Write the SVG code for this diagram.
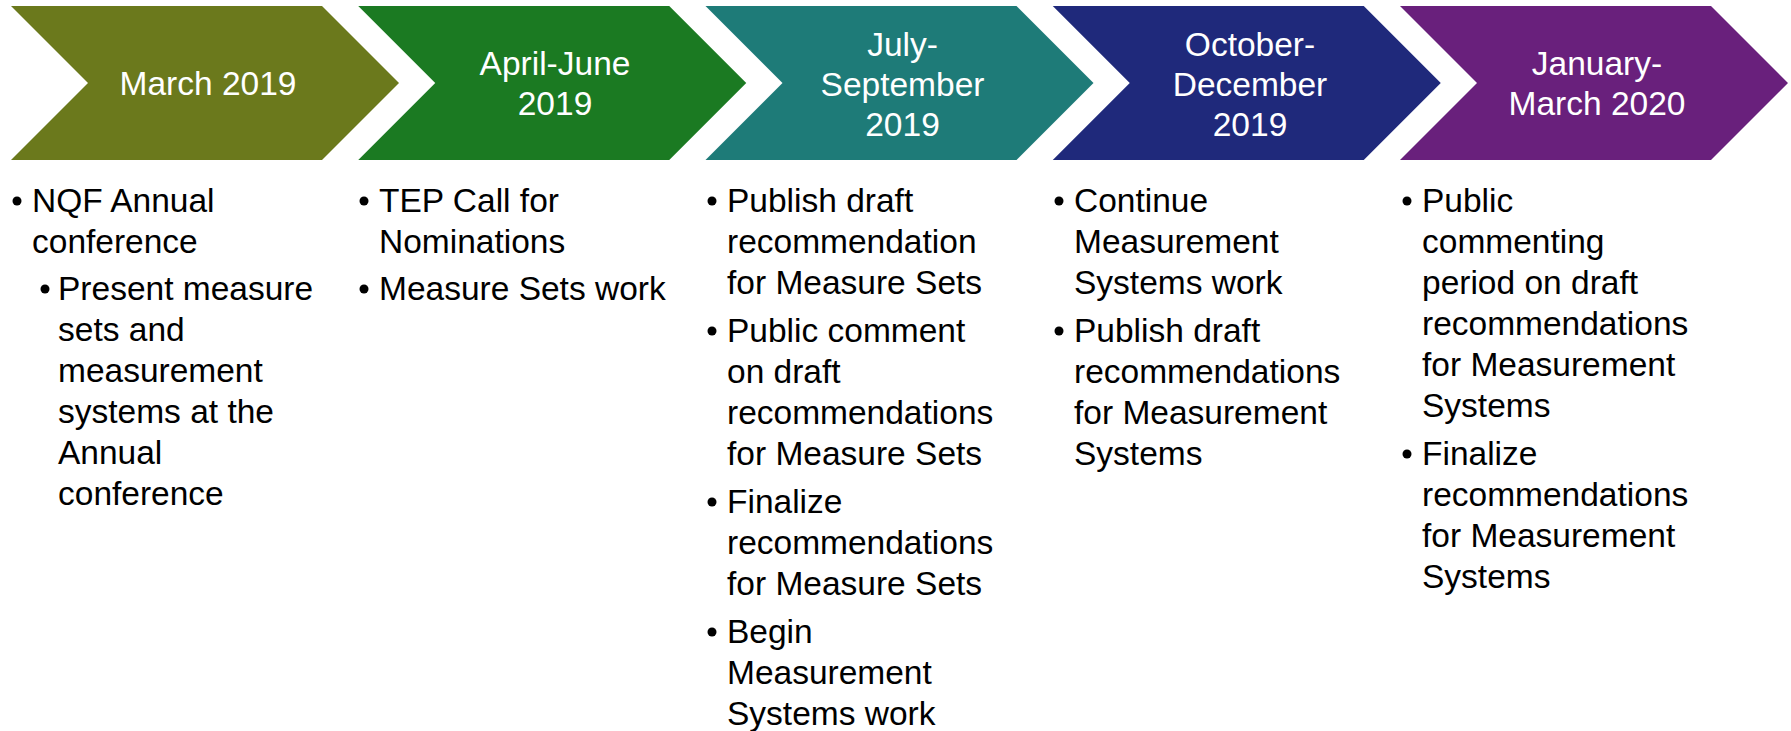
<svg xmlns="http://www.w3.org/2000/svg" width="1791" height="731" viewBox="0 0 1791 731">
<style>
.hd{font-family:"Liberation Sans",Arial,sans-serif;font-size:33.5px;fill:#ffffff;text-anchor:middle}
.bt{font-family:"Liberation Sans",Arial,sans-serif;font-size:33.5px;fill:#000000}
.dot{fill:#000000}
</style>
<defs>
<path id="chev" d="M0,6 H311 L388,83 L311,160 H0 L77,83 Z"/>
</defs>
<g id="connectors"></g>
<g id="node-mar2019">
<use href="#chev" x="11" fill="#6B791C"/>
<text class="hd" x="208" y="95">March 2019</text>
<circle class="dot" cx="17" cy="201" r="4.5"/>
<text class="bt" x="32" y="212">NQF Annual</text>
<text class="bt" x="32" y="253">conference</text>
<circle class="dot" cx="45" cy="289" r="4.5"/>
<text class="bt" x="58" y="300">Present measure</text>
<text class="bt" x="58" y="341">sets and</text>
<text class="bt" x="58" y="382">measurement</text>
<text class="bt" x="58" y="423">systems at the</text>
<text class="bt" x="58" y="464">Annual</text>
<text class="bt" x="58" y="505">conference</text>
</g>
<g id="node-aprjun2019">
<use href="#chev" x="358.25" fill="#1B7A22"/>
<text class="hd" x="555" y="75">April-June</text>
<text class="hd" x="555" y="115">2019</text>
<circle class="dot" cx="364" cy="201" r="4.5"/>
<text class="bt" x="379" y="212">TEP Call for</text>
<text class="bt" x="379" y="253">Nominations</text>
<circle class="dot" cx="364" cy="289" r="4.5"/>
<text class="bt" x="379" y="300">Measure Sets work</text>
</g>
<g id="node-julsep2019">
<use href="#chev" x="705.5" fill="#1E7B78"/>
<text class="hd" x="902.5" y="56">July-</text>
<text class="hd" x="902.5" y="96">September</text>
<text class="hd" x="902.5" y="136">2019</text>
<circle class="dot" cx="712" cy="201" r="4.5"/>
<text class="bt" x="727" y="212">Publish draft</text>
<text class="bt" x="727" y="253">recommendation</text>
<text class="bt" x="727" y="294">for Measure Sets</text>
<circle class="dot" cx="712" cy="331" r="4.5"/>
<text class="bt" x="727" y="342">Public comment</text>
<text class="bt" x="727" y="383">on draft</text>
<text class="bt" x="727" y="424">recommendations</text>
<text class="bt" x="727" y="465">for Measure Sets</text>
<circle class="dot" cx="712" cy="502" r="4.5"/>
<text class="bt" x="727" y="513">Finalize</text>
<text class="bt" x="727" y="554">recommendations</text>
<text class="bt" x="727" y="595">for Measure Sets</text>
<circle class="dot" cx="712" cy="632" r="4.5"/>
<text class="bt" x="727" y="643">Begin</text>
<text class="bt" x="727" y="684">Measurement</text>
<text class="bt" x="727" y="725">Systems work</text>
</g>
<g id="node-octdec2019">
<use href="#chev" x="1052.75" fill="#1F297B"/>
<text class="hd" x="1250" y="56">October-</text>
<text class="hd" x="1250" y="96">December</text>
<text class="hd" x="1250" y="136">2019</text>
<circle class="dot" cx="1059" cy="201" r="4.5"/>
<text class="bt" x="1074" y="212">Continue</text>
<text class="bt" x="1074" y="253">Measurement</text>
<text class="bt" x="1074" y="294">Systems work</text>
<circle class="dot" cx="1059" cy="331" r="4.5"/>
<text class="bt" x="1074" y="342">Publish draft</text>
<text class="bt" x="1074" y="383">recommendations</text>
<text class="bt" x="1074" y="424">for Measurement</text>
<text class="bt" x="1074" y="465">Systems</text>
</g>
<g id="node-janmar2020">
<use href="#chev" x="1400" fill="#69207C"/>
<text class="hd" x="1597" y="75">January-</text>
<text class="hd" x="1597" y="115">March 2020</text>
<circle class="dot" cx="1407" cy="201" r="4.5"/>
<text class="bt" x="1422" y="212">Public</text>
<text class="bt" x="1422" y="253">commenting</text>
<text class="bt" x="1422" y="294">period on draft</text>
<text class="bt" x="1422" y="335">recommendations</text>
<text class="bt" x="1422" y="376">for Measurement</text>
<text class="bt" x="1422" y="417">Systems</text>
<circle class="dot" cx="1407" cy="454" r="4.5"/>
<text class="bt" x="1422" y="465">Finalize</text>
<text class="bt" x="1422" y="506">recommendations</text>
<text class="bt" x="1422" y="547">for Measurement</text>
<text class="bt" x="1422" y="588">Systems</text>
</g>
</svg>
